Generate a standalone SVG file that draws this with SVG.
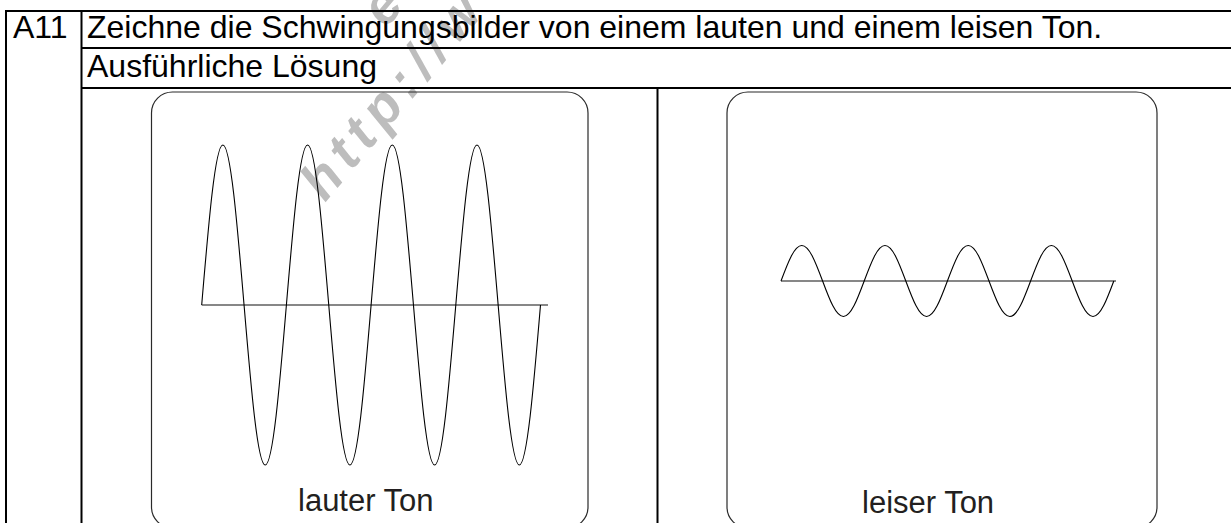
<svg xmlns="http://www.w3.org/2000/svg" width="1231" height="523" viewBox="0 0 1231 523">
  <style>
    .grid { stroke: #000; stroke-width: 2; fill: none; }
    .hdr { font-family: "Liberation Sans", Arial, sans-serif; font-size: 32px; fill: #000; }
    .lbl { font-family: "Liberation Sans", Arial, sans-serif; font-size: 31px; fill: #231f20; }
    .box { fill: none; stroke: #2a2a2a; stroke-width: 1.2; }
    .axis { stroke: #111; stroke-width: 1.2; fill: none; }
    .wave { stroke: #000; stroke-width: 1.1; fill: none; }
    .wm { font-family: "Liberation Sans", Arial, sans-serif; font-size: 54px; font-weight: bold; font-style: italic; fill: #bdbdbd; }
  </style>
  <rect width="1231" height="523" fill="#fff"/>
  <g id="watermark">
    <text class="wm" transform="translate(325,203) rotate(-50)" letter-spacing="8">http://w</text>
    <text class="wm" transform="translate(386,29) rotate(-50)">e</text>
  </g>
  <g id="table">
    <line class="grid" x1="5" y1="11" x2="1231" y2="11"/>
    <line class="grid" x1="6" y1="10" x2="6" y2="523"/>
    <line class="grid" x1="81.5" y1="11" x2="81.5" y2="523"/>
    <line class="grid" x1="81" y1="48" x2="1231" y2="48"/>
    <line class="grid" x1="81" y1="88" x2="1231" y2="88"/>
    <line class="grid" x1="657.5" y1="88" x2="657.5" y2="523"/>
    <text class="hdr" x="13" y="38">A11</text>
    <text class="hdr" x="87" y="38">Zeichne die Schwingungsbilder von einem lauten und einem leisen Ton.</text>
    <text class="hdr" x="87" y="77">Ausführliche Lösung</text>
  </g>
  <g id="laut">
    <rect class="box" x="151.5" y="92" width="436.5" height="436" rx="21" ry="21"/>
    <line class="axis" x1="201.7" y1="305" x2="548" y2="305"/>
    <path class="wave" d="M201.7,305
      c6.905,-81.97 13.51,-160 21.175,-160 c7.665,0 14.27,78.03 21.175,160 c6.905,81.97 13.51,160 21.175,160 c7.665,0 14.27,-78.03 21.175,-160
      c6.905,-81.97 13.51,-160 21.175,-160 c7.665,0 14.27,78.03 21.175,160 c6.905,81.97 13.51,160 21.175,160 c7.665,0 14.27,-78.03 21.175,-160
      c6.905,-81.97 13.51,-160 21.175,-160 c7.665,0 14.27,78.03 21.175,160 c6.905,81.97 13.51,160 21.175,160 c7.665,0 14.27,-78.03 21.175,-160
      c6.905,-81.97 13.51,-160 21.175,-160 c7.665,0 14.27,78.03 21.175,160 c6.905,81.97 13.51,160 21.175,160 c7.665,0 14.27,-78.03 21.175,-160"/>
    <text class="lbl" x="298" y="511">lauter Ton</text>
  </g>
  <g id="leise">
    <rect class="box" x="727" y="92" width="430" height="436" rx="21" ry="21"/>
    <line class="axis" x1="781" y1="281" x2="1116" y2="281"/>
    <path class="wave" d="M781,281
      c6.78,-18.19 13.27,-35.5 20.8,-35.5 c7.53,0 14.02,17.31 20.8,35.5 c6.78,18.19 13.27,35.5 20.8,35.5 c7.53,0 14.02,-17.31 20.8,-35.5
      c6.78,-18.19 13.27,-35.5 20.8,-35.5 c7.53,0 14.02,17.31 20.8,35.5 c6.78,18.19 13.27,35.5 20.8,35.5 c7.53,0 14.02,-17.31 20.8,-35.5
      c6.78,-18.19 13.27,-35.5 20.8,-35.5 c7.53,0 14.02,17.31 20.8,35.5 c6.78,18.19 13.27,35.5 20.8,35.5 c7.53,0 14.02,-17.31 20.8,-35.5
      c6.78,-18.19 13.27,-35.5 20.8,-35.5 c7.53,0 14.02,17.31 20.8,35.5 c6.78,18.19 13.27,35.5 20.8,35.5 c7.53,0 14.02,-17.31 20.8,-35.5"/>
    <text class="lbl" x="862" y="513">leiser Ton</text>
  </g>
</svg>
